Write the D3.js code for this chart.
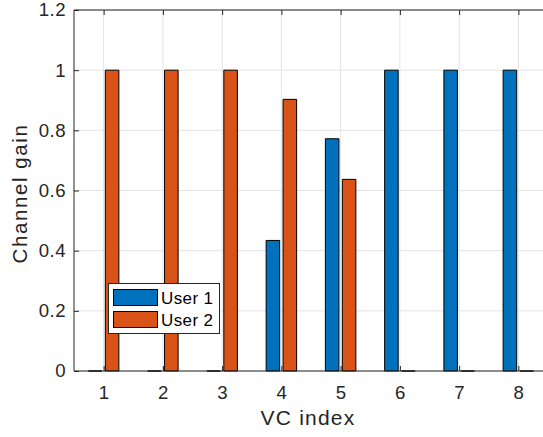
<!DOCTYPE html>
<html>
<head>
<meta charset="utf-8">
<script src="https://cdn.jsdelivr.net/npm/d3@7/dist/d3.min.js"></script>
<style>
  html, body { margin: 0; padding: 0; background: #fff; }
  svg { display: block; font-family: "Liberation Sans", Arial, Helvetica, sans-serif; }
</style>
</head>
<body>
<svg id="chart" width="543" height="437"></svg>
<script>
// Channel gain per virtual channel (VC) for two users
const vcIndex = [1, 2, 3, 4, 5, 6, 7, 8];
const user1Gain = [0, 0, 0, 0.434, 0.772, 1, 1, 1];
const user2Gain = [1, 1, 1, 0.903, 0.637, 0, 0, 0];
const seriesNames = ["User 1", "User 2"];
const seriesColors = ["#0072BD", "#D95319"];
const yTickValues = [0, 0.2, 0.4, 0.6, 0.8, 1, 1.2];

const svg = d3.select("#chart");
const plot = { left: 74, right: 548, top: 10, bottom: 371 };

const x = d3.scaleLinear().domain([0.5, 8.5]).range([plot.left, plot.right]);
const y = d3.scaleLinear().domain([0, 1.2]).range([plot.bottom, plot.top]);

const axisColor = "#262626";
const gridColor = "#e3e3e3";

// grid lines
const grid = svg.append("g");
grid.selectAll("line.gx").data(vcIndex).join("line")
  .attr("x1", d => x(d)).attr("x2", d => x(d))
  .attr("y1", plot.top).attr("y2", plot.bottom)
  .attr("stroke", gridColor).attr("stroke-width", 1);
grid.selectAll("line.gy").data(yTickValues).join("line")
  .attr("x1", plot.left).attr("x2", plot.right)
  .attr("y1", d => y(d)).attr("y2", d => y(d))
  .attr("stroke", gridColor).attr("stroke-width", 1);

// grouped bars: group width 2/3.5, each bar 80% of its slot
const nSeries = 2;
const groupWidth = Math.min(0.8, nSeries / (nSeries + 1.5));
const slot = groupWidth / nSeries;
const barWidth = slot * 0.8;
const series = [user1Gain, user2Gain];

series.forEach((vals, si) => {
  const offset = -groupWidth / 2 + slot * (si + 0.5);
  svg.append("g").selectAll("path").data(vals).join("path")
    .attr("d", (v, i) => {
      const x0 = x(vcIndex[i] + offset - barWidth / 2);
      const x1 = x(vcIndex[i] + offset + barWidth / 2);
      const y0 = y(0), y1 = y(v);
      return `M${x0},${y0}V${y1}H${x1}V${y0}Z`;
    })
    .attr("fill", seriesColors[si])
    .attr("stroke", "#000")
    .attr("stroke-width", 1);
});

// axes box
const xAxisB = d3.axisBottom(x).tickValues(vcIndex).tickSize(-5).tickPadding(15).tickFormat(d3.format("d"));
const xAxisT = d3.axisTop(x).tickValues(vcIndex).tickSize(-5).tickFormat("");
const yAxisL = d3.axisLeft(y).tickValues(yTickValues).tickSize(-5).tickPadding(8).tickFormat(d => d3.format("")(+d.toFixed(1)));

function styleAxis(g) {
  g.select(".domain").attr("stroke", axisColor).attr("stroke-width", 1);
  g.selectAll(".tick line").attr("stroke", axisColor);
  g.selectAll(".tick text").attr("fill", axisColor).attr("font-size", 18.6)
    .attr("letter-spacing", 0.5)
    .attr("font-family", "Liberation Sans, Arial, sans-serif");
}

svg.append("g").attr("transform", `translate(0,${plot.bottom})`).call(xAxisB).call(styleAxis)
  .call(g => g.select(".domain").attr("d", `M${plot.left},0H${plot.right}`));
svg.append("g").attr("transform", `translate(0,${plot.top})`).call(xAxisT).call(styleAxis)
  .call(g => g.select(".domain").attr("d", `M${plot.left},0H${plot.right}`));
svg.append("g").attr("transform", `translate(${plot.left},0)`).call(yAxisL).call(styleAxis)
  .call(g => g.select(".domain").attr("d", `M0,${plot.top}V${plot.bottom}`));

// axis labels
svg.append("text")
  .attr("x", (plot.left + plot.right) / 2 - 3).attr("y", 425)
  .attr("text-anchor", "middle").attr("font-size", 21).attr("letter-spacing", 1.2)
  .attr("fill", axisColor)
  .text("VC index");
svg.append("text")
  .attr("transform", `translate(27,${(plot.top + plot.bottom) / 2 + 3}) rotate(-90)`)
  .attr("text-anchor", "middle").attr("font-size", 20.5).attr("letter-spacing", 1.6)
  .attr("fill", axisColor)
  .text("Channel gain");

// legend
const legend = svg.append("g").attr("transform", "translate(108,283)");
legend.append("rect").attr("x", 0.5).attr("y", 0.5).attr("width", 111).attr("height", 50)
  .attr("fill", "#fff").attr("stroke", axisColor).attr("stroke-width", 1);
seriesNames.forEach((name, i) => {
  legend.append("rect")
    .attr("x", 5.5).attr("y", 6.5 + i * 22).attr("width", 44).attr("height", 16)
    .attr("fill", seriesColors[i]).attr("stroke", "#000").attr("stroke-width", 1);
  legend.append("text")
    .attr("x", 53).attr("y", 20.5 + i * 22)
    .attr("font-size", 17).attr("letter-spacing", 0.4).attr("fill", "#000")
    .text(name);
});
</script>
</body>
</html>
